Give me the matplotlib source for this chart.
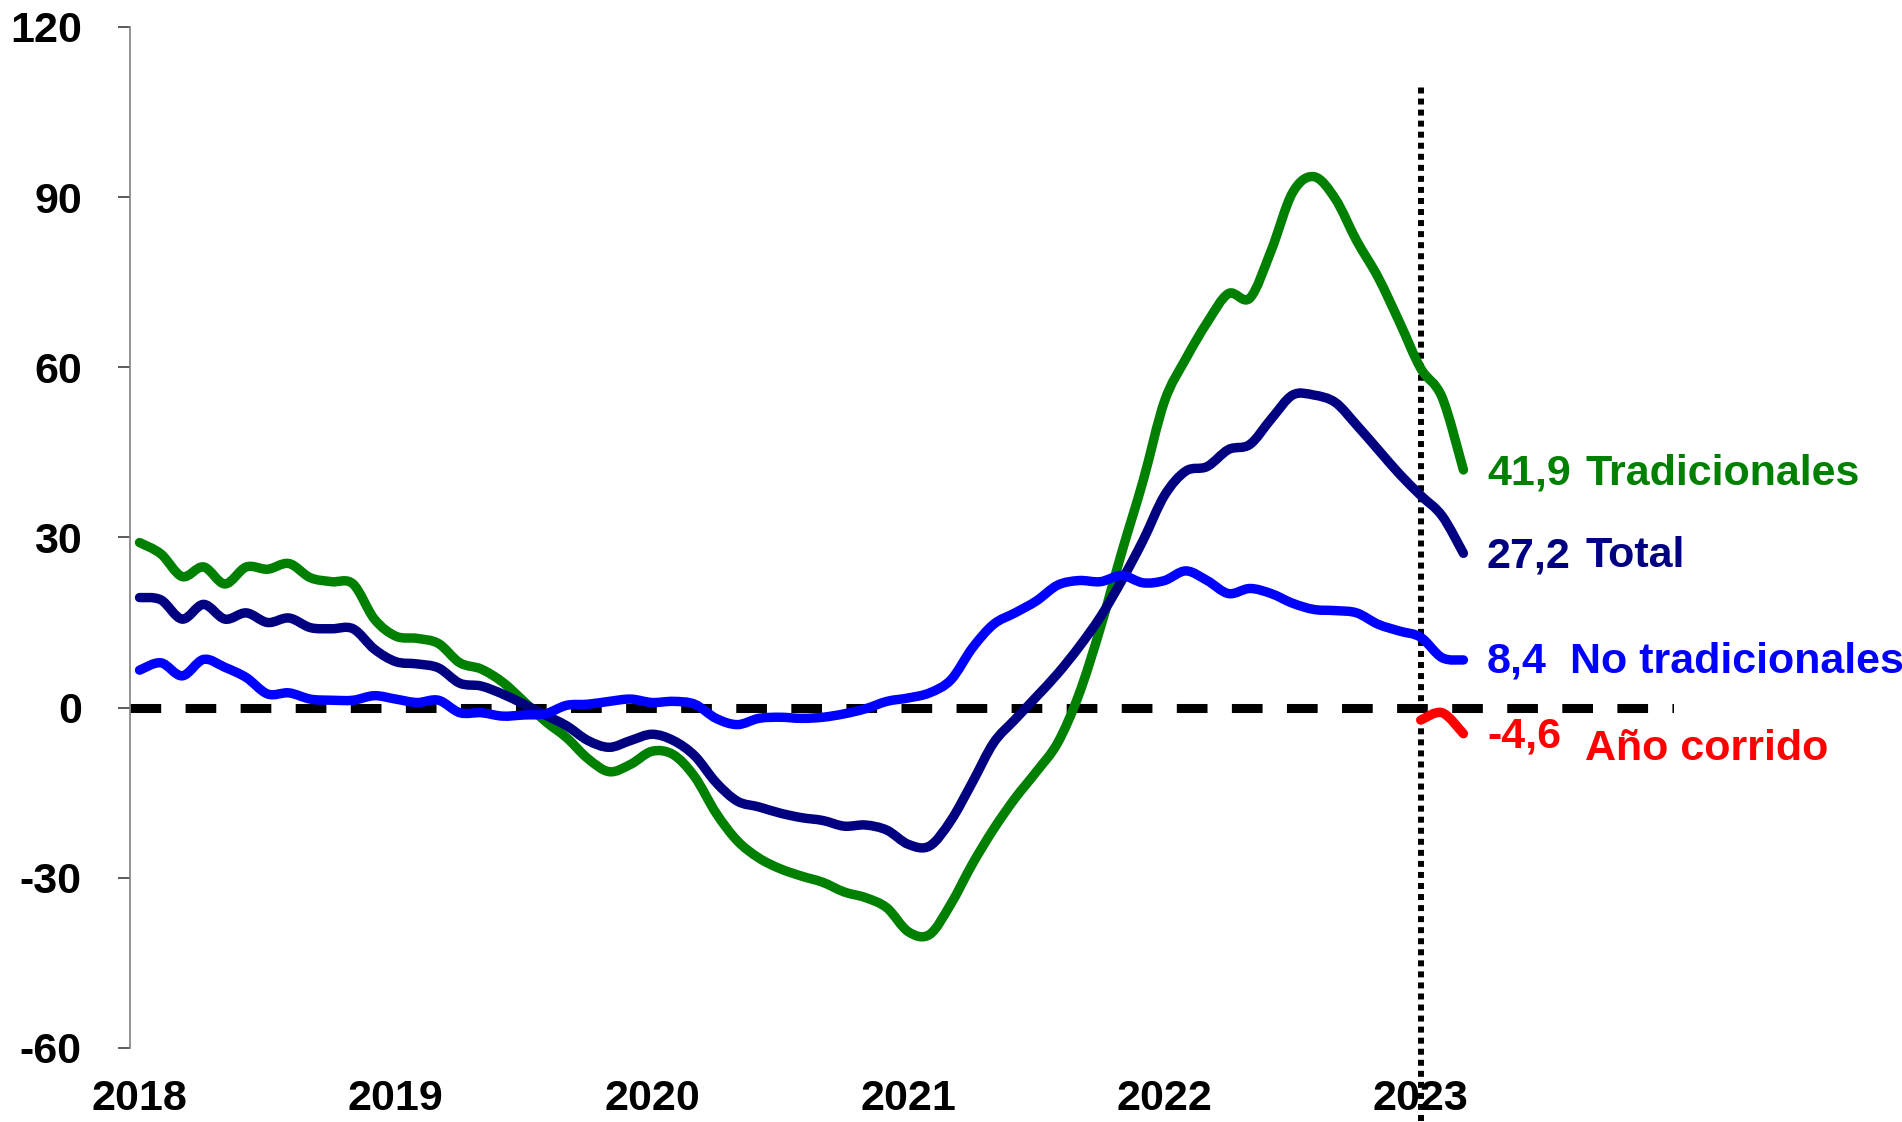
import numpy as np
import matplotlib
matplotlib.use("Agg")
import matplotlib.pyplot as plt
from matplotlib.path import Path
from matplotlib.patches import PathPatch

plt.rcParams['font.family'] = ['Liberation Sans', 'DejaVu Sans']
plt.rcParams['font.weight'] = 'bold'
plt.rcParams['axes.unicode_minus'] = False

# monthly data, Jan 2018 - Mar 2023
tradicionales = [29.1, 27.1, 23.1, 24.8, 21.8, 24.8, 24.4, 25.4, 22.9, 22.2,
                 21.8, 15.6, 12.6, 12.2, 11.3, 7.9, 6.8, 4.5, 1.1, -2.4,
                 -5.3, -9.0, -11.3, -10.0, -7.7, -8.3, -12.2, -18.6, -23.5, -26.5,
                 -28.4, -29.7, -30.8, -32.5, -33.5, -35.3, -39.5, -40.0, -34.6, -27.6,
                 -21.4, -16.0, -11.3, -6.2, 2.4, 14.1, 27.4, 40.0, 54.0, 61.5,
                 67.9, 73.0, 72.2, 80.6, 90.8, 93.6, 89.7, 82.3, 75.9, 68.0,
                 59.8, 54.7, 41.9]
total = [19.4, 19.0, 15.6, 18.2, 15.6, 16.7, 15.0, 15.8, 14.1, 13.9,
         13.9, 10.3, 8.1, 7.7, 7.0, 4.3, 3.8, 2.4, 0.6, -1.3,
         -3.2, -5.8, -7.0, -5.8, -4.7, -5.8, -8.5, -13.2, -16.5, -17.5,
         -18.6, -19.4, -19.9, -20.9, -20.7, -21.6, -24.1, -24.4, -19.9, -13.2,
         -6.2, -2.1, 1.9, 6.0, 10.7, 16.0, 22.4, 29.5, 37.4, 41.7,
         42.5, 45.5, 46.4, 50.9, 55.1, 55.1, 53.8, 49.8, 45.5, 41.2,
         37.4, 33.8, 27.2]
no_tradicionales = [6.6, 7.9, 5.6, 8.5, 7.1, 5.3, 2.4, 2.6, 1.5, 1.3,
                    1.3, 2.1, 1.5, 0.9, 1.3, -0.9, -0.9, -1.5, -1.3, -1.1,
                    0.4, 0.6, 1.1, 1.5, 0.9, 1.1, 0.6, -1.9, -3.0, -1.9,
                    -1.7, -1.9, -1.7, -1.1, -0.2, 1.1, 1.7, 2.6, 4.9, 10.5,
                    14.7, 16.7, 18.8, 21.6, 22.4, 22.2, 23.3, 22.0, 22.4, 24.1,
                    22.4, 20.1, 21.0, 20.1, 18.4, 17.3, 17.1, 16.7, 14.7, 13.5,
                    12.4, 8.8, 8.4]
ano_corrido = [-2.2, -0.9, -4.6]
years = ['2018', '2019', '2020', '2021', '2022', '2023']

x = np.arange(len(total))
x_ac = x[-len(ano_corrido):]


def smooth_line(ax, xs, ys, color, lw=6.8, z=3):
    # excel-like smoothed line: bezier segments through the data points
    p = np.column_stack([xs, ys]).astype(float)
    ext = np.vstack([p[0], p, p[-1]])
    verts = [p[0]]
    codes = [Path.MOVETO]
    for i in range(len(p) - 1):
        p0, p1, p2, p3 = ext[i], ext[i + 1], ext[i + 2], ext[i + 3]
        verts += [p1 + (p2 - p0) / 6, p2 - (p3 - p1) / 6, p2]
        codes += [Path.CURVE4] * 3
    patch = PathPatch(Path(verts, codes), fill=False, edgecolor=color, lw=lw,
                      capstyle='round', joinstyle='round', zorder=z)
    ax.add_patch(patch)


fig = plt.figure(figsize=(19.02, 11.22), dpi=100)
ax = fig.add_axes([0.0683, 0.066, 0.880 - 0.0683, 0.976 - 0.066])

ax.axhline(0, color='black', lw=6.5, dashes=(3.4, 2.7), zorder=1)
smooth_line(ax, x, tradicionales, '#008000', z=3)
smooth_line(ax, x, total, '#000080', z=4)
smooth_line(ax, x, no_tradicionales, '#0000FF', z=5)
smooth_line(ax, x_ac, ano_corrido, '#FF0000', z=6)
ax.axvline(60, ymin=-0.072, ymax=0.944, color='black', lw=4.3, dashes=(1, 0.85),
           clip_on=False, zorder=2)

ax.set_xlim(-0.45, 71.85)
ax.set_ylim(-60, 120)
ax.set_yticks(np.arange(-60, 121, 30))
ax.set_xticks(np.arange(0, len(years) * 12, 12))
ax.set_xticklabels(years)

for s in ['top', 'right', 'bottom']:
    ax.spines[s].set_visible(False)
ax.spines['left'].set_color('#808080')
ax.spines['left'].set_linewidth(1.2)
ax.tick_params(axis='y', direction='out', length=8.6, width=1.2, color='#404040',
               labelsize=31, pad=26)
ax.tick_params(axis='x', length=0, labelsize=31, pad=22)

# end labels
fs = 31
ax.text(63.1, 41.2, '41,9', color='#008000', fontsize=fs, fontweight='bold', va='center')
ax.text(67.7, 41.2, 'Tradicionales', color='#008000', fontsize=fs, fontweight='bold', va='center')
ax.text(63.1, 26.7, '27,2', color='#000080', fontsize=fs, fontweight='bold', va='center')
ax.text(67.7, 26.7, 'Total', color='#000080', fontsize=fs, fontweight='bold', va='center')
ax.text(63.1, 8.1, '8,4', color='#0000FF', fontsize=fs, fontweight='bold', va='center')
ax.text(67.0, 8.1, 'No tradicionales', color='#0000FF', fontsize=fs, fontweight='bold', va='center')
ax.text(63.1, -5.1, '-4,6', color='#FF0000', fontsize=fs, fontweight='bold', va='center')
ax.text(67.7, -7.3, 'Año corrido', color='#FF0000', fontsize=fs, fontweight='bold', va='center')

fig.savefig('out.png', dpi=100)
